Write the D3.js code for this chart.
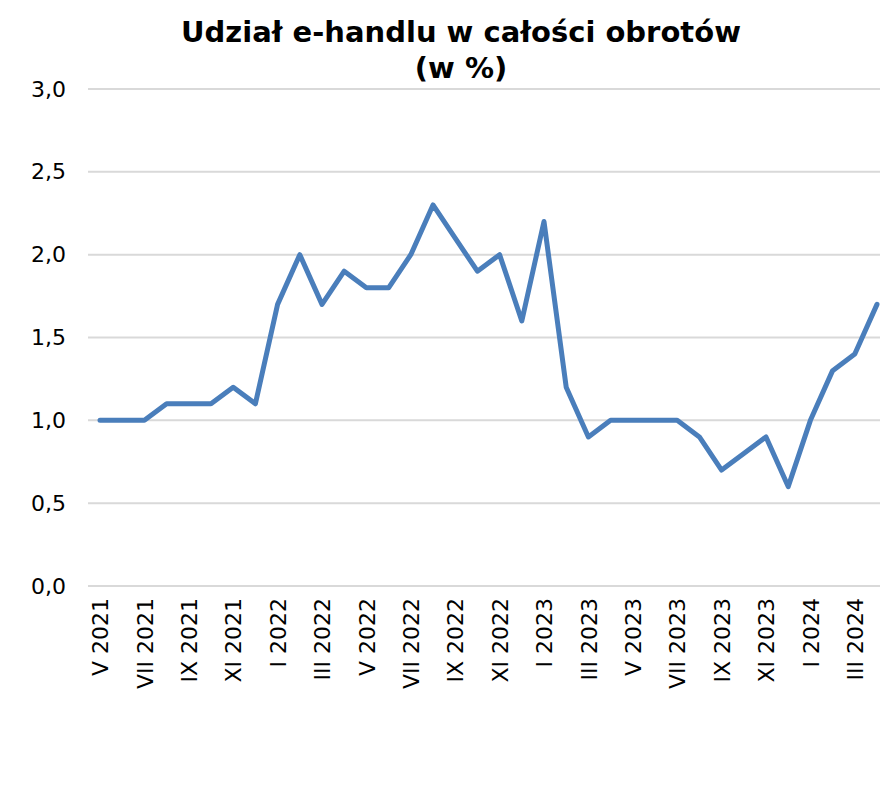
<!DOCTYPE html>
<html>
<head>
<meta charset="utf-8">
<script src="https://cdn.jsdelivr.net/npm/d3@7"></script>
<style>
  body { margin: 0; background: #fff; }
  text { font-family: "DejaVu Sans", Verdana, sans-serif; }
</style>
</head>
<body>
<div id="chart"></div>
<script>
// months from V 2021 to IV 2024
const months = ['V 2021', 'VI 2021', 'VII 2021', 'VIII 2021', 'IX 2021', 'X 2021', 'XI 2021', 'XII 2021',
  'I 2022', 'II 2022', 'III 2022', 'IV 2022', 'V 2022', 'VI 2022', 'VII 2022', 'VIII 2022', 'IX 2022', 'X 2022', 'XI 2022', 'XII 2022',
  'I 2023', 'II 2023', 'III 2023', 'IV 2023', 'V 2023', 'VI 2023', 'VII 2023', 'VIII 2023', 'IX 2023', 'X 2023', 'XI 2023', 'XII 2023',
  'I 2024', 'II 2024', 'III 2024', 'IV 2024'];
const share = [1.0, 1.0, 1.0, 1.1, 1.1, 1.1, 1.2, 1.1,
  1.7, 2.0, 1.7, 1.9, 1.8, 1.8, 2.0, 2.3, 2.1, 1.9, 2.0, 1.6,
  2.2, 1.2, 0.9, 1.0, 1.0, 1.0, 1.0, 0.9, 0.7, 0.8, 0.9, 0.6,
  1.0, 1.3, 1.4, 1.7];
const yTicks = [0, 0.5, 1, 1.5, 2, 2.5, 3];

const W = 880, H = 811;
const svg = d3.select('#chart').append('svg')
  .attr('width', W).attr('height', H);

const x = d3.scalePoint().domain(months).range([100, 877]);
const y = d3.scaleLinear().domain([0, 3]).range([586, 89]);

// title
svg.append('text')
  .attr('x', 461).attr('y', 42)
  .attr('text-anchor', 'middle')
  .attr('font-weight', 'bold').attr('font-size', 29)
  .text('Udział e-handlu w całości obrotów');
svg.append('text')
  .attr('x', 461).attr('y', 78)
  .attr('text-anchor', 'middle')
  .attr('font-weight', 'bold').attr('font-size', 29)
  .text('(w %)');

// gridlines
svg.append('g')
  .selectAll('line')
  .data(yTicks)
  .enter().append('line')
  .attr('x1', 88).attr('x2', 880)
  .attr('y1', d => y(d)).attr('y2', d => y(d))
  .attr('stroke', '#d9d9d9').attr('stroke-width', 2);

// y axis labels
const fmt = d => d3.format('.1f')(d).replace('.', ',');
svg.append('g')
  .attr('transform', 'translate(66,0)')
  .call(d3.axisLeft(y).tickValues(yTicks).tickFormat(fmt).tickSize(0).tickPadding(0))
  .call(g => g.select('.domain').remove())
  .call(g => g.selectAll('text')
    .attr('font-size', 22).attr('fill', '#000')
    .style('font-family', '"DejaVu Sans", Verdana, sans-serif'));

// x axis labels (every second month)
const xAxis = svg.append('g')
  .attr('transform', 'translate(0,598)')
  .call(d3.axisBottom(x).tickValues(months.filter((d, i) => i % 2 === 0)).tickSize(0).tickPadding(0));
xAxis.select('.domain').remove();
xAxis.selectAll('text')
  .attr('font-size', 22).attr('fill', '#000')
  .style('font-family', '"DejaVu Sans", Verdana, sans-serif')
  .attr('transform', 'rotate(-90)')
  .attr('text-anchor', 'end')
  .attr('x', 0).attr('y', 0).attr('dy', '0.35em');

// line
const line = d3.line()
  .x((d, i) => x(months[i]))
  .y(d => y(d));
svg.append('path')
  .datum(share)
  .attr('d', line)
  .attr('fill', 'none')
  .attr('stroke', '#4a7ebb')
  .attr('stroke-width', 5)
  .attr('stroke-linejoin', 'round')
  .attr('stroke-linecap', 'round');
</script>
</body>
</html>
